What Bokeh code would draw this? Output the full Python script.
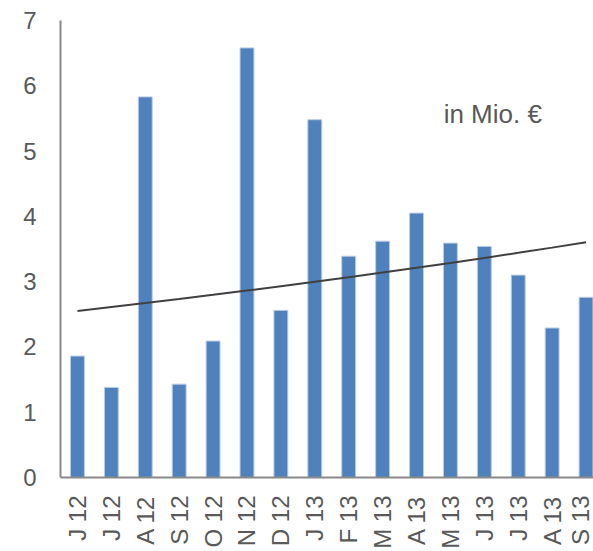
import math
import numpy as np
from bokeh.plotting import figure
from bokeh.models import ColumnDataSource, FixedTicker, Label, Range1d
from bokeh.embed import file_html
from bokeh.resources import INLINE

categories = ["J 12", "J 12", "A 12", "S 12", "O 12", "N 12", "D 12", "J 13",
              "F 13", "M 13", "A 13", "M 13", "J 13", "J 13", "A 13", "S 13"]
values = [1.86, 1.38, 5.83, 1.43, 2.09, 6.58, 2.56, 5.48,
          3.39, 3.62, 4.05, 3.59, 3.54, 3.10, 2.29, 2.76]
y_ticks = [0, 1, 2, 3, 4, 5, 6, 7]
unit_label = "in Mio. €"

x = list(range(len(categories)))
# Exponential trend line (least squares on log values), like Excel's
t = np.arange(1, len(values) + 1)
b, a = np.polyfit(t, np.log(values), 1)
trend = list(np.exp(a + b * t))

FONT = "Liberation Sans"
GREY = "#595959"

p = figure(width=593, height=551, output_backend="svg", toolbar_location=None,
           x_range=Range1d(-0.5, 15.22), y_range=Range1d(0, 7),
           min_border_left=60, min_border_right=0, min_border_top=20,
           min_border_bottom=69)
p.outline_line_color = None
p.xgrid.visible = False
p.ygrid.visible = False

src = ColumnDataSource(dict(x=x, top=values))
p.vbar(x="x", top="top", width=0.41, bottom=0, source=src,
       fill_color="#4F81BD", line_color="#B9CDE5", line_width=1)

p.line(x=x, y=trend, line_color="#404040", line_width=2)

p.add_layout(Label(x=10.8, y=5.57, text=unit_label, text_font=FONT,
                   text_font_size="26px", text_color=GREY,
                   text_baseline="alphabetic"))

p.xaxis.ticker = FixedTicker(ticks=x)
p.xaxis.major_label_overrides = {i: c for i, c in enumerate(categories)}
p.xaxis.major_label_orientation = math.pi / 2
p.yaxis.ticker = FixedTicker(ticks=y_ticks)

for ax in (p.xaxis[0], p.yaxis[0]):
    ax.axis_line_color = "#898989"
    ax.axis_line_width = 2
    ax.major_tick_line_color = None
    ax.minor_tick_line_color = None
    ax.major_tick_out = 0
    ax.major_tick_in = 0
    ax.major_label_text_font = FONT
    ax.major_label_text_font_size = "24px"
    ax.major_label_text_color = GREY

p.xaxis.major_label_standoff = 18
p.yaxis.major_label_standoff = 24

open("out.html", "w").write(file_html(p, INLINE))
